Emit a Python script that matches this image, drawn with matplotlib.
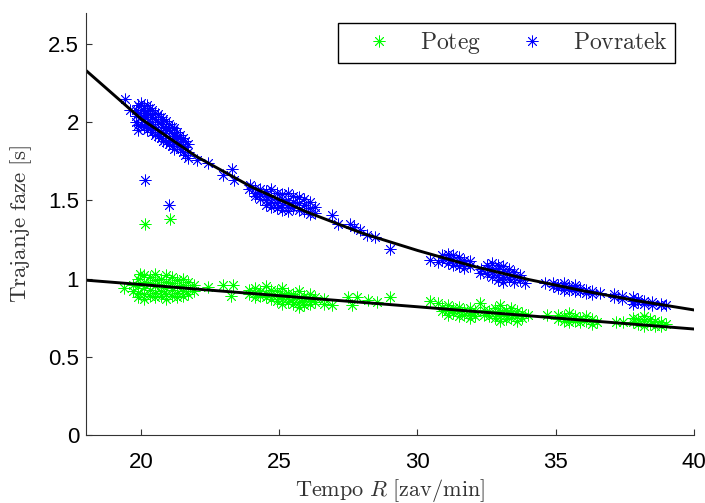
import numpy as np
import matplotlib
matplotlib.use('Agg')
import matplotlib.pyplot as plt

# Povratek (return phase) samples: (tempo, [durations])
povratek = [
    (19.4, [2.15]), (19.6, [2.08]),
    (19.8, [2.08, 2.04, 2.00]), (19.9, [2.11, 2.06, 1.98, 1.95]),
    (20.0, [2.12, 2.08, 2.04, 1.99]), (20.1, [2.10, 2.06, 2.02, 1.97]),
    (20.2, [2.11, 2.07, 2.03, 1.98, 1.95]), (20.3, [2.09, 2.05, 2.00, 1.96]),
    (20.4, [2.08, 2.03, 1.99, 1.94]), (20.5, [2.06, 2.02, 1.97, 1.92]),
    (20.6, [2.05, 2.00, 1.95, 1.91]), (20.7, [2.03, 1.99, 1.94, 1.90]),
    (20.8, [2.02, 1.97, 1.93, 1.88]), (20.9, [2.01, 1.96, 1.91, 1.87]),
    (21.0, [1.99, 1.95, 1.90, 1.86]), (21.1, [1.97, 1.93, 1.88, 1.85]),
    (21.2, [1.96, 1.91, 1.87, 1.83]), (21.3, [1.94, 1.89, 1.85]),
    (21.4, [1.92, 1.87, 1.83]), (21.5, [1.90, 1.85, 1.81]),
    (21.6, [1.88, 1.84, 1.79]), (21.7, [1.86, 1.81, 1.77]),
    (20.15, [1.63]), (21.0, [1.47]),
    (22.0, [1.76]), (22.4, [1.74]), (22.97, [1.66]), (23.29, [1.70]),
    (23.34, [1.63]), (23.95, [1.60]),
    (23.9, [1.57]), (24.1, [1.58, 1.55, 1.53]), (24.3, [1.57, 1.54, 1.51]),
    (24.5, [1.56, 1.53, 1.50, 1.47]), (24.7, [1.57, 1.52, 1.49, 1.46]),
    (24.9, [1.55, 1.51, 1.48, 1.45]), (25.1, [1.54, 1.51, 1.47, 1.44]),
    (25.3, [1.55, 1.50, 1.46, 1.43]), (25.5, [1.53, 1.49, 1.45]),
    (25.7, [1.52, 1.48, 1.44]), (25.9, [1.51, 1.47, 1.43]),
    (26.1, [1.49, 1.45, 1.41]), (26.3, [1.46, 1.42]),
    (26.9, [1.405]), (27.13, [1.35]), (27.56, [1.35]), (27.7, [1.33]),
    (27.93, [1.31]), (28.17, [1.277]), (28.47, [1.266]), (29.0, [1.19]),
    (30.46, [1.12]), (30.75, [1.107]),
    (30.9, [1.15, 1.12]), (31.1, [1.16, 1.13, 1.10]), (31.3, [1.15, 1.12, 1.09]),
    (31.5, [1.14, 1.11, 1.08]), (31.7, [1.12, 1.10, 1.07]), (31.9, [1.11, 1.08]),
    (32.26, [1.035]), (32.3, [1.06]),
    (32.5, [1.09, 1.06, 1.03]), (32.7, [1.10, 1.07, 1.04, 1.01]),
    (32.9, [1.09, 1.06, 1.02, 0.99]), (33.1, [1.08, 1.05, 1.01, 0.98]),
    (33.3, [1.06, 1.03, 1.00]), (33.5, [1.04, 1.01, 0.98]), (33.7, [1.02, 0.99]),
    (33.9, [0.97]), (34.6, [0.97]),
    (34.9, [0.97, 0.95]), (35.1, [0.96, 0.94]), (35.3, [0.97, 0.95, 0.93]),
    (35.5, [0.95, 0.93]), (35.7, [0.96, 0.94, 0.92]), (35.9, [0.94, 0.92]),
    (36.1, [0.93, 0.91]), (36.3, [0.92, 0.90]), (36.6, [0.91]),
    (37.1, [0.90, 0.88]), (37.4, [0.89, 0.87]), (37.8, [0.88, 0.86, 0.84]),
    (38.0, [0.87, 0.85]), (38.2, [0.86, 0.84]), (38.5, [0.85, 0.83]),
    (38.8, [0.84, 0.83]), (39.0, [0.83]),
]

# Poteg (pull phase) samples
poteg = [
    (20.15, [1.35]), (21.03, [1.384]),
    (19.37, [0.937]), (19.97, [1.03]),
    (19.7, [0.96, 0.92]), (19.9, [1.00, 0.95, 0.91, 0.88]),
    (20.1, [1.02, 0.98, 0.94, 0.90, 0.87]), (20.3, [1.01, 0.97, 0.93, 0.89]),
    (20.5, [1.03, 0.99, 0.95, 0.91, 0.88]), (20.7, [1.00, 0.96, 0.92, 0.89]),
    (20.9, [1.02, 0.98, 0.94, 0.90, 0.87]), (21.1, [1.01, 0.97, 0.93, 0.89]),
    (21.3, [0.99, 0.95, 0.91, 0.88]), (21.5, [1.00, 0.96, 0.92, 0.89]),
    (21.7, [0.98, 0.94, 0.90]), (21.9, [0.96, 0.92]),
    (22.4, [0.947]), (22.97, [0.958]), (23.32, [0.958]), (23.26, [0.888]),
    (23.9, [0.93, 0.90]), (24.1, [0.94, 0.91, 0.88]), (24.3, [0.92, 0.89]),
    (24.5, [0.95, 0.91, 0.88]), (24.7, [0.93, 0.90, 0.87]),
    (24.9, [0.92, 0.89, 0.86]), (25.1, [0.94, 0.90, 0.87, 0.84]),
    (25.3, [0.91, 0.88, 0.85]), (25.5, [0.90, 0.87, 0.84]),
    (25.7, [0.92, 0.88, 0.85, 0.82]), (25.9, [0.89, 0.86, 0.83]),
    (26.1, [0.90, 0.87, 0.84]), (26.3, [0.88, 0.85]), (26.6, [0.87, 0.84]),
    (26.9, [0.83]), (27.5, [0.883]), (27.8, [0.883]), (27.63, [0.83]),
    (28.2, [0.862]), (28.53, [0.851]), (28.99, [0.883]),
    (30.46, [0.858]), (30.76, [0.841]),
    (30.9, [0.82, 0.79]), (31.1, [0.83, 0.80, 0.77]), (31.3, [0.81, 0.78]),
    (31.5, [0.82, 0.79, 0.76]), (31.7, [0.80, 0.77]), (31.9, [0.81, 0.78, 0.75]),
    (32.1, [0.79, 0.76]), (32.27, [0.841]), (32.4, [0.80, 0.77]),
    (32.6, [0.79, 0.76]), (32.8, [0.81, 0.78, 0.75]),
    (33.0, [0.83, 0.79, 0.76, 0.73]), (33.2, [0.80, 0.77, 0.74]),
    (33.4, [0.81, 0.78, 0.75]), (33.6, [0.79, 0.76, 0.73]),
    (33.8, [0.78, 0.75]), (34.0, [0.77]), (34.68, [0.766]),
    (35.1, [0.77, 0.74]), (35.3, [0.76, 0.73]), (35.5, [0.78, 0.75, 0.72]),
    (35.7, [0.76, 0.73]), (35.9, [0.75, 0.72]), (36.1, [0.76, 0.73]),
    (36.3, [0.74, 0.71]), (36.5, [0.72]), (37.2, [0.723]), (37.44, [0.723]),
    (37.8, [0.75, 0.72]), (38.0, [0.74, 0.71]), (38.2, [0.76, 0.73, 0.70]),
    (38.4, [0.74, 0.71]), (38.6, [0.73, 0.70]), (38.8, [0.72, 0.70]),
    (39.0, [0.71]),
]

# fitted curves
fit_x = [18, 20, 22, 24, 26, 28, 30, 32, 34, 36, 38, 40]
fit_povratek = [2.33, 2.02, 1.78, 1.585, 1.425, 1.29, 1.18, 1.08, 0.995, 0.922, 0.857, 0.80]
fit_poteg = [0.99, 0.962, 0.933, 0.905, 0.876, 0.848, 0.82, 0.791, 0.763, 0.734, 0.706, 0.678]

xticks = [20, 25, 30, 35, 40]
yticks = [0, 0.5, 1, 1.5, 2, 2.5]


def expand(cols):
    xs, ys = [], []
    for x, vals in cols:
        for v in vals:
            xs.append(x)
            ys.append(v)
    return np.array(xs), np.array(ys)


pov_x, pov_y = expand(povratek)
pot_x, pot_y = expand(poteg)

plt.rcParams['mathtext.fontset'] = 'cm'
plt.rcParams['font.family'] = ['Liberation Sans', 'DejaVu Sans']

fig = plt.figure(figsize=(7.05, 5.03), dpi=100)
ax = fig.add_axes([0.122, 0.135, 0.862, 0.84])

asterisk = (8, 2, 0)
ax.plot(pot_x, pot_y, linestyle='none', marker=asterisk, color='#00ff00',
        markersize=8.5, markeredgewidth=0.6, label=r'$\mathrm{Poteg}$')
ax.plot(pov_x, pov_y, linestyle='none', marker=asterisk, color='#0000ff',
        markersize=8.5, markeredgewidth=0.6, label=r'$\mathrm{Povratek}$')

ax.plot(fit_x, fit_povratek, color='black', linewidth=2.1)
ax.plot(fit_x, fit_poteg, color='black', linewidth=2.1)

ax.set_xlim(18, 40)
ax.set_ylim(0, 2.7)
ax.set_xticks(xticks)
ax.set_xticklabels([str(t) for t in xticks])
ax.set_yticks(yticks)
ax.set_yticklabels(['0', '0.5', '1', '1.5', '2', '2.5'])

ax.spines['top'].set_visible(False)
ax.spines['right'].set_visible(False)
for s in ['left', 'bottom']:
    ax.spines[s].set_linewidth(0.8)
    ax.spines[s].set_color('#333333')

ax.tick_params(axis='both', direction='in', length=4, width=0.8,
               labelsize=16, color='#333333')
ax.tick_params(axis='x', pad=12)
ax.tick_params(axis='y', pad=5)

ax.set_xlabel(r'$\mathrm{Tempo}\ R\ [\mathrm{zav/min}]$', fontsize=16, color='#333333')
ax.set_ylabel(r'$\mathrm{Trajanje\ faze\ [s]}$', fontsize=16.5, color='#333333')
ax.xaxis.set_label_coords(0.5, -0.1)
ax.yaxis.set_label_coords(-0.085, 0.5)

leg = ax.legend(loc='upper left', bbox_to_anchor=(0.414, 0.976),
                ncol=2, fontsize=17, frameon=True, fancybox=False,
                handlelength=2.9, handletextpad=0.3, columnspacing=0.7,
                borderpad=0.3, borderaxespad=0.0, numpoints=1)
leg.get_frame().set_edgecolor('black')
leg.get_frame().set_linewidth(1.0)
leg.get_frame().set_alpha(1.0)
for t in leg.get_texts():
    t.set_color('#333333')

fig.savefig('out.png', dpi=100)
